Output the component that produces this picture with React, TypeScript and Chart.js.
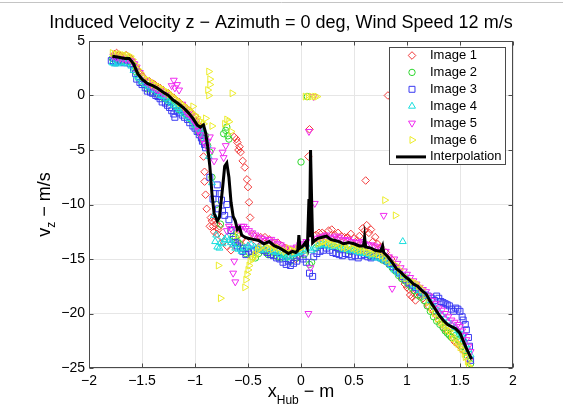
import React, { useEffect, useRef } from 'react';
import { Chart, registerables } from 'chart.js';

Chart.register(...registerables);

const TITLE = 'Induced Velocity z \u2212 Azimuth = 0 deg, Wind Speed 12 m/s';
const X_LABEL_MAIN = 'x';
const X_LABEL_SUB = 'Hub';
const X_LABEL_REST = ' \u2212 m';
const Y_LABEL_MAIN = 'v';
const Y_LABEL_SUB = 'z';
const Y_LABEL_REST = ' \u2212 m/s';

const xTicks = [-2, -1.5, -1, -0.5, 0, 0.5, 1, 1.5, 2];
const yTicks = [5, 0, -5, -10, -15, -20, -25];

const seriesNames = ['Image 1', 'Image 2', 'Image 3', 'Image 4', 'Image 5', 'Image 6'];
const lineName = 'Interpolation';

type P = [number, number];

const image1: P[] = [
  [-1.76, 3.8], [-1.72, 3.7], [-1.68, 3.6], [-1.62, 3.5], [-1.58, 3.0], [-1.54, 2.3], [-1.5, 1.8], [-1.45, 1.3],
  [-1.4, 1.1], [-1.35, 0.8], [-1.3, 0.5], [-1.25, 0.2], [-1.2, -0.2], [-1.15, -0.6], [-1.1, -1.0], [-1.05, -1.4],
  [-1.0, -1.9], [-0.96, -2.8], [-0.93, -3.5], [-0.92, -5.6], [-0.91, -7.0], [-0.91, -7.9], [-0.9, -9.1], [-0.89, -10.4],
  [-0.86, -12.0], [-0.84, -11.5], [-0.82, -12.5], [-0.8, -11.8], [-0.78, -12.3], [-0.75, -13.0], [-0.7, -13.8],
  [-0.66, -14.2], [-0.63, -3.8], [-0.6, -4.3], [-0.58, -4.7], [-0.57, -5.2], [-0.55, -6.0], [-0.53, -6.6],
  [-0.51, -7.7], [-0.5, -8.4], [-0.49, -9.8], [-0.48, -11.2], [-0.45, -12.8], [-0.38, -13.0], [-0.3, -13.2],
  [-0.22, -13.5], [-0.15, -14.0], [-0.1, -14.8], [-0.05, -15.0], [0.0, -14.5], [0.07, -5.6], [0.08, -3.1],
  [0.14, -12.8], [0.2, -12.6], [0.26, -12.4], [0.32, -12.8], [0.38, -12.9], [0.44, -13.0], [0.5, -13.1],
  [0.55, -12.9], [0.6, -12.4], [0.61, -7.8], [0.64, -12.6], [0.68, -13.4], [0.72, -13.6], [0.82, 0.0],
  [0.85, -15.0], [0.92, -16.2], [0.98, -17.3], [1.02, -17.8], [1.05, -18.5], [1.08, -18.8], [1.1, -18.0],
  [1.15, -18.6], [1.2, -19.3], [1.25, -19.8], [1.3, -20.6], [1.35, -21.4], [1.4, -22.0], [1.45, -22.6],
  [1.5, -23.0], [1.55, -23.5],
  [-1.74, 3.9], [-1.7, 3.6], [-1.65, 3.7], [-1.6, 3.3], [-1.56, 2.6], [-1.52, 2.1], [-1.48, 1.6], [-1.43, 1.3],
  [-1.38, 1.0], [-1.33, 0.7], [-1.28, 0.3], [-1.23, 0.0], [-1.18, -0.4], [-1.13, -0.8], [-1.08, -1.2],
  [-1.03, -1.7], [-0.99, -2.3], [-0.95, -3.0], [-0.85, -11.2], [-0.83, -12.0], [-0.81, -11.4], [-0.79, -12.7],
  [-0.77, -12.0], [-0.73, -13.4], [-0.61, -4.0], [-0.59, -5.0], [-0.56, -13.2], [-0.52, -13.4], [-0.42, -13.4],
  [-0.34, -13.0], [-0.26, -13.6], [-0.18, -13.8], [-0.08, -14.4], [0.17, -12.6], [0.23, -12.9], [0.29, -12.3],
  [0.35, -12.6], [0.41, -13.0], [0.47, -12.7], [0.53, -13.3], [0.58, -12.2], [0.62, -11.9], [0.66, -12.3],
  [0.7, -13.0], [0.75, -13.9], [0.8, -14.4], [0.88, -15.6], [0.95, -16.8], [1.0, -17.6], [1.03, -18.3],
  [1.07, -18.2], [1.12, -18.3], [1.18, -19.0], [1.23, -19.6], [1.28, -20.2], [1.33, -21.0], [1.38, -21.6],
  [1.43, -22.3], [1.48, -22.8], [1.53, -23.4], [1.58, -24.2],
];

const image2: P[] = [
  [-1.78, 3.4], [-1.74, 3.3], [-1.68, 3.2], [-1.62, 3.1], [-1.56, 2.2], [-1.5, 1.2], [-1.45, 0.6], [-1.4, 0.3],
  [-1.35, 0.1], [-1.3, -0.2], [-1.25, -0.6], [-1.2, -0.9], [-1.15, -1.3], [-1.1, -1.6], [-1.05, -2.1], [-1.0, -2.6],
  [-0.97, -3.3], [-0.94, -3.9], [-0.9, -3.7], [-0.88, -4.6], [-0.86, -5.2], [-0.84, -7.5], [-0.8, -10.0],
  [-0.76, -11.8], [-0.73, -3.5], [-0.7, -2.9], [-0.68, -4.0], [-0.66, -12.4], [-0.62, -13.0], [-0.58, -13.6],
  [-0.52, -14.5], [-0.46, -14.8], [-0.4, -14.5], [-0.34, -14.3], [-0.28, -14.6], [-0.22, -14.8], [-0.16, -14.6],
  [-0.1, -15.2], [-0.04, -14.9], [0.0, -6.1], [0.03, -14.6], [0.06, -0.1], [0.08, -15.5], [0.14, -14.0],
  [0.2, -13.6], [0.26, -13.5], [0.32, -13.9], [0.38, -14.0], [0.44, -14.2], [0.5, -14.0], [0.56, -14.4],
  [0.62, -14.5], [0.68, -14.6], [0.74, -14.8], [0.8, -15.2], [0.86, -15.8], [0.92, -16.5], [0.98, -17.0],
  [1.04, -17.6], [1.1, -18.3], [1.16, -18.8], [1.22, -19.8], [1.28, -20.7], [1.34, -21.3], [1.38, -21.8],
  [1.42, -22.2], [1.46, -22.0], [1.5, -22.6], [1.55, -23.4], [1.6, -24.6],
  [-1.76, 3.5], [-1.71, 3.3], [-1.65, 3.3], [-1.59, 2.8], [-1.53, 1.6], [-1.48, 1.0], [-1.43, 0.7], [-1.38, 0.4],
  [-1.33, 0.1], [-1.28, -0.3], [-1.23, -0.6], [-1.18, -1.1], [-1.13, -1.4], [-1.08, -1.8], [-1.03, -2.3],
  [-0.99, -2.8], [-0.95, -3.5], [-0.92, -4.2], [-0.71, -3.2], [-0.69, -3.7], [-0.64, -12.9], [-0.6, -13.4],
  [-0.55, -14.0], [-0.49, -14.4], [-0.43, -14.9], [-0.37, -14.2], [-0.31, -14.6], [-0.25, -14.4], [-0.19, -14.9],
  [-0.13, -14.8], [-0.07, -14.7], [-0.01, -14.2], [0.1, -15.3], [0.17, -13.8], [0.23, -13.7], [0.29, -13.6],
  [0.35, -14.1], [0.41, -13.9], [0.47, -14.3], [0.53, -14.1], [0.59, -14.3], [0.65, -14.7], [0.71, -14.5],
  [0.77, -15.1], [0.83, -15.5], [0.89, -16.1], [0.95, -16.8], [1.01, -17.3], [1.07, -17.9], [1.13, -18.5],
  [1.19, -19.3], [1.25, -20.3], [1.31, -21.0], [1.36, -21.6], [1.4, -22.0], [1.44, -21.8], [1.48, -22.4],
  [1.52, -23.0], [1.57, -23.9],
];

const image3: P[] = [
  [-1.79, 3.2], [-1.75, 3.0], [-1.7, 3.1], [-1.64, 3.2], [-1.58, 2.4], [-1.55, 1.5], [-1.5, 1.0], [-1.45, 0.4],
  [-1.4, 0.2], [-1.35, -0.1], [-1.31, -0.6], [-1.26, -0.9], [-1.22, -1.4], [-1.19, -2.0], [-1.15, -1.6],
  [-1.1, -2.0], [-1.05, -2.5], [-1.0, -3.0], [-0.96, -3.6], [-0.93, -4.2], [-0.9, -4.8], [-0.86, -7.5],
  [-0.83, -9.5], [-0.79, -8.2], [-0.77, -9.0], [-0.74, -10.6], [-0.7, -10.0], [-0.68, -11.4], [-0.64, -13.2],
  [-0.6, -13.8], [-0.55, -14.3], [-0.5, -14.0], [-0.44, -14.2], [-0.38, -13.9], [-0.32, -14.4], [-0.26, -14.7],
  [-0.2, -15.0], [-0.14, -15.5], [-0.1, -15.6], [-0.04, -15.2], [0.02, -15.0], [0.08, -16.3], [0.11, -16.6],
  [0.12, -14.8], [0.18, -14.3], [0.24, -14.0], [0.3, -14.4], [0.36, -14.6], [0.42, -14.5], [0.48, -14.8],
  [0.54, -14.9], [0.6, -14.6], [0.66, -14.9], [0.72, -14.7], [0.78, -15.0], [0.84, -15.4], [0.9, -16.0],
  [0.96, -16.6], [1.02, -17.2], [1.08, -17.6], [1.14, -18.1], [1.2, -18.4], [1.26, -18.8], [1.3, -18.6],
  [1.34, -19.0], [1.38, -19.2], [1.42, -19.6], [1.46, -19.5], [1.5, -19.8], [1.53, -20.6], [1.55, -21.0],
  [1.58, -22.2], [1.6, -24.3],
  [-1.77, 3.1], [-1.72, 3.2], [-1.67, 3.0], [-1.61, 2.9], [-1.56, 2.0], [-1.52, 1.2], [-1.47, 0.7], [-1.42, 0.3],
  [-1.37, 0.0], [-1.33, -0.3], [-1.28, -0.7], [-1.24, -1.1], [-1.2, -1.7], [-1.17, -1.4], [-1.12, -1.8],
  [-1.07, -2.2], [-1.02, -2.8], [-0.98, -3.3], [-0.94, -3.9], [-0.91, -4.5], [-0.81, -9.0], [-0.78, -10.4],
  [-0.75, -9.6], [-0.72, -11.0], [-0.66, -12.4], [-0.62, -13.5], [-0.57, -14.0], [-0.52, -14.6], [-0.47, -14.3],
  [-0.41, -14.1], [-0.35, -14.2], [-0.29, -14.6], [-0.23, -14.9], [-0.17, -15.3], [-0.12, -15.2], [-0.07, -15.4],
  [-0.01, -14.8], [0.05, -15.3], [0.15, -14.5], [0.21, -14.2], [0.27, -14.2], [0.33, -14.5], [0.39, -14.7],
  [0.45, -14.6], [0.51, -14.7], [0.57, -14.7], [0.63, -14.8], [0.69, -14.8], [0.75, -14.9], [0.81, -15.2],
  [0.87, -15.7], [0.93, -16.3], [0.99, -16.9], [1.05, -17.4], [1.11, -17.8], [1.17, -18.3], [1.23, -18.6],
  [1.28, -18.4], [1.32, -18.9], [1.36, -19.1], [1.4, -19.3], [1.44, -19.8], [1.48, -19.6], [1.52, -20.3],
  [1.56, -21.5], [1.59, -23.0],
];

const image4: P[] = [
  [-1.78, 3.0], [-1.73, 2.9], [-1.67, 3.0], [-1.6, 2.7], [-1.55, 1.8], [-1.5, 1.3], [-1.44, 0.8], [-1.38, 0.5],
  [-1.32, 0.0], [-1.27, -0.3], [-1.22, -0.7], [-1.17, -1.1], [-1.12, -1.5], [-1.07, -1.9], [-1.02, -2.4],
  [-0.98, -2.9], [-0.94, -3.2], [-0.9, -4.0], [-0.87, -5.6], [-0.84, -8.0], [-0.82, -11.0], [-0.8, -12.8],
  [-0.79, -13.9], [-0.74, -13.6], [-0.7, -13.0], [-0.66, -13.5], [-0.62, -14.0], [-0.56, -14.3], [-0.5, -13.8],
  [-0.44, -13.9], [-0.38, -14.2], [-0.32, -14.0], [-0.26, -14.3], [-0.2, -14.6], [-0.14, -14.9], [-0.08, -14.6],
  [-0.02, -14.4], [0.04, -14.1], [0.1, -14.2], [0.16, -13.8], [0.22, -13.7], [0.28, -13.9], [0.34, -13.7],
  [0.4, -14.1], [0.46, -14.2], [0.52, -14.3], [0.58, -14.5], [0.64, -14.6], [0.7, -14.9], [0.76, -15.0],
  [0.82, -15.3], [0.88, -16.0], [0.94, -16.4], [0.96, -13.4], [1.0, -16.8], [1.06, -17.4], [1.12, -17.9],
  [1.18, -18.4], [1.24, -19.2], [1.3, -19.8], [1.36, -20.4], [1.42, -21.0], [1.48, -21.6], [1.52, -22.0],
  [1.56, -22.9], [1.6, -23.8],
  [-1.76, 2.9], [-1.7, 3.0], [-1.64, 2.9], [-1.58, 2.3], [-1.53, 1.6], [-1.47, 1.0], [-1.41, 0.6], [-1.35, 0.3],
  [-1.3, -0.1], [-1.25, -0.5], [-1.2, -0.9], [-1.15, -1.3], [-1.1, -1.7], [-1.05, -2.1], [-1.0, -2.7],
  [-0.96, -3.1], [-0.92, -3.6], [-0.88, -4.6], [-0.81, -13.4], [-0.77, -14.0], [-0.76, -13.5], [-0.72, -13.2],
  [-0.68, -13.3], [-0.64, -13.7], [-0.59, -14.1], [-0.53, -14.0], [-0.47, -13.7], [-0.41, -14.0], [-0.35, -14.1],
  [-0.29, -14.2], [-0.23, -14.4], [-0.17, -14.7], [-0.11, -14.8], [-0.05, -14.5], [0.01, -14.3], [0.07, -14.0],
  [0.13, -14.0], [0.19, -13.7], [0.25, -13.8], [0.31, -13.8], [0.37, -13.9], [0.43, -14.1], [0.49, -14.2],
  [0.55, -14.4], [0.61, -14.5], [0.67, -14.7], [0.73, -14.9], [0.79, -15.1], [0.85, -15.6], [0.91, -16.2],
  [0.97, -16.6], [1.03, -17.1], [1.09, -17.6], [1.15, -18.1], [1.21, -18.8], [1.27, -19.5], [1.33, -20.1],
  [1.39, -20.7], [1.45, -21.3], [1.5, -21.8], [1.54, -22.4], [1.58, -23.3],
];

const image5: P[] = [
  [-1.77, 3.6], [-1.71, 3.4], [-1.65, 3.3], [-1.6, 3.2], [-1.55, 2.6], [-1.5, 1.7], [-1.45, 1.2], [-1.4, 0.8],
  [-1.35, 0.5], [-1.3, 0.2], [-1.2, 1.4], [-1.17, 1.0], [-1.15, 0.5], [-1.12, -0.8], [-1.08, -1.6], [-1.04, -1.9],
  [-1.0, -2.4], [-0.97, -3.2], [-0.93, -4.0], [-0.89, -4.7], [-0.86, -3.8], [-0.84, -5.0], [-0.73, -5.7],
  [-0.71, -4.6], [-0.68, -12.0], [-0.64, -16.3], [-0.63, -15.2], [-0.62, -17.1], [-0.6, -12.3], [-0.56, -12.0],
  [-0.52, -12.2], [-0.46, -12.6], [-0.4, -13.0], [-0.34, -13.3], [-0.28, -13.2], [-0.22, -13.6], [-0.16, -13.9],
  [-0.1, -14.1], [-0.04, -13.9], [0.02, -13.6], [0.07, -20.0], [0.075, -3.3], [0.09, -15.8], [0.12, -0.1],
  [0.13, -9.9], [0.18, -13.0], [0.24, -12.8], [0.3, -13.1], [0.36, -13.0], [0.42, -13.3], [0.48, -13.4],
  [0.54, -13.5], [0.6, -13.6], [0.66, -13.7], [0.72, -13.9], [0.78, -11.0], [0.8, -14.3], [0.86, -17.7],
  [0.88, -15.0], [0.94, -15.8], [1.0, -16.4], [1.06, -17.0], [1.12, -17.6], [1.18, -18.0], [1.24, -18.8],
  [1.3, -19.5], [1.36, -20.0], [1.42, -20.6], [1.48, -21.0], [1.52, -21.6], [1.56, -22.4], [1.6, -23.5],
  [-1.74, 3.5], [-1.68, 3.4], [-1.62, 3.3], [-1.57, 2.9], [-1.52, 2.1], [-1.47, 1.4], [-1.42, 1.0], [-1.37, 0.6],
  [-1.32, 0.4], [-1.27, 0.1], [-1.22, 0.9], [-1.19, 0.7], [-1.1, -1.2], [-1.06, -1.7], [-1.02, -2.2],
  [-0.98, -2.8], [-0.95, -3.6], [-0.91, -4.4], [-0.88, -4.2], [-0.82, -6.0], [-0.74, -5.2], [-0.7, -12.4],
  [-0.66, -12.2], [-0.58, -12.2], [-0.54, -12.0], [-0.49, -12.4], [-0.43, -12.8], [-0.37, -13.1], [-0.31, -13.2],
  [-0.25, -13.4], [-0.19, -13.7], [-0.13, -14.0], [-0.07, -14.0], [-0.01, -13.7], [0.05, -13.4], [0.15, -13.1],
  [0.21, -12.9], [0.27, -13.0], [0.33, -12.9], [0.39, -13.2], [0.45, -13.2], [0.51, -13.5], [0.57, -13.4],
  [0.63, -13.7], [0.69, -13.8], [0.75, -14.1], [0.83, -14.8], [0.91, -15.4], [0.97, -16.1], [1.03, -16.7],
  [1.09, -17.3], [1.15, -17.8], [1.21, -18.4], [1.27, -19.1], [1.33, -19.7], [1.39, -20.3], [1.45, -20.8],
  [1.5, -21.2], [1.54, -22.0], [1.58, -23.0],
];

const image6: P[] = [
  [-1.78, 3.9], [-1.73, 3.8], [-1.67, 3.7], [-1.61, 3.6], [-1.56, 2.8], [-1.51, 2.0], [-1.46, 1.5], [-1.41, 1.2],
  [-1.36, 0.9], [-1.31, 0.6], [-1.26, 0.3], [-1.21, -0.1], [-1.16, -0.5], [-1.11, -0.9], [-1.06, -1.3],
  [-1.02, -1.0], [-0.98, -2.0], [-0.94, -2.4], [-0.9, -2.1], [-0.88, 0.5], [-0.87, 2.2], [-0.86, 1.5],
  [-0.87, 0.0], [-0.84, -2.8], [-0.78, -15.6], [-0.76, -18.6], [-0.72, -2.6], [-0.7, -2.2], [-0.65, 0.2],
  [-0.6, -12.8], [-0.53, -17.6], [-0.51, -16.4], [-0.49, -15.6], [-0.46, -15.0], [-0.43, -14.6], [-0.41, -14.2],
  [-0.36, -13.8], [-0.3, -14.0], [-0.24, -13.9], [-0.18, -14.2], [-0.12, -14.0], [-0.06, -14.3], [0.0, -14.0],
  [0.04, -0.1], [0.1, -0.1], [0.15, -0.1], [0.16, -13.6], [0.22, -13.4], [0.28, -13.6], [0.34, -13.6],
  [0.4, -13.9], [0.46, -13.8], [0.52, -14.1], [0.58, -14.2], [0.64, -14.4], [0.7, -14.5], [0.76, -14.7],
  [0.79, -9.6], [0.82, -15.1], [0.89, -11.0], [0.9, -15.6], [0.96, -16.5], [1.02, -17.0], [1.08, -17.2],
  [1.14, -17.8], [1.2, -19.0], [1.26, -20.0], [1.32, -20.8], [1.36, -21.2], [1.4, -21.6], [1.44, -22.3],
  [1.48, -22.8], [1.52, -23.3], [1.55, -24.0], [1.58, -24.8], [1.6, -25.0],
  [-1.76, 3.8], [-1.7, 3.8], [-1.64, 3.7], [-1.59, 3.3], [-1.54, 2.4], [-1.49, 1.7], [-1.44, 1.4], [-1.39, 1.0],
  [-1.34, 0.8], [-1.29, 0.5], [-1.24, 0.1], [-1.19, -0.3], [-1.14, -0.7], [-1.09, -1.1], [-1.04, -1.5],
  [-1.0, -1.8], [-0.96, -2.3], [-0.92, -2.6], [-0.86, 1.0], [-0.68, -2.4], [-0.66, -3.3], [-0.52, -16.9],
  [-0.5, -16.0], [-0.48, -15.2], [-0.44, -14.8], [-0.39, -14.0], [-0.33, -13.9], [-0.27, -14.1], [-0.21, -14.0],
  [-0.15, -14.3], [-0.09, -14.2], [-0.03, -14.1], [0.07, -0.1], [0.13, -0.1], [0.19, -13.5], [0.25, -13.5],
  [0.31, -13.7], [0.37, -13.7], [0.43, -14.0], [0.49, -14.0], [0.55, -14.2], [0.61, -14.3], [0.67, -14.5],
  [0.73, -14.6], [0.79, -14.9], [0.85, -15.3], [0.93, -16.0], [0.99, -16.8], [1.05, -17.1], [1.11, -17.5],
  [1.17, -18.3], [1.23, -19.6], [1.29, -20.5], [1.34, -21.0], [1.38, -21.5], [1.42, -22.0], [1.46, -22.6],
  [1.5, -23.1], [1.54, -23.7], [1.57, -24.4],
];

const interpolation: P[] = [
  [-1.78, 3.6], [-1.72, 3.5], [-1.66, 3.4], [-1.62, 3.4], [-1.58, 2.9], [-1.54, 2.0], [-1.5, 1.5], [-1.45, 1.1],
  [-1.4, 0.9], [-1.36, 0.7], [-1.3, 0.3], [-1.25, 0.0], [-1.21, -0.4], [-1.15, -0.8], [-1.1, -1.2], [-1.06, -1.6],
  [-1.02, -2.1], [-0.98, -2.7], [-0.95, -2.9], [-0.92, -2.7], [-0.9, -3.4], [-0.88, -4.7], [-0.86, -6.5],
  [-0.84, -9.0], [-0.82, -10.8], [-0.79, -11.5], [-0.77, -11.2], [-0.74, -8.5], [-0.72, -6.5], [-0.7, -6.2],
  [-0.68, -7.5], [-0.66, -9.8], [-0.64, -11.1], [-0.62, -11.5], [-0.6, -12.3], [-0.58, -12.1], [-0.56, -12.8],
  [-0.53, -13.0], [-0.5, -13.1], [-0.45, -13.2], [-0.4, -13.3], [-0.35, -13.6], [-0.3, -13.4], [-0.25, -13.8],
  [-0.2, -14.0], [-0.15, -14.3], [-0.12, -14.5], [-0.08, -14.3], [-0.05, -14.4], [-0.03, -14.2], [-0.02, -12.8],
  [-0.01, -14.0], [0.02, -13.8], [0.04, -13.5], [0.06, -14.0], [0.075, -9.5], [0.08, -13.0], [0.09, -5.0],
  [0.1, -9.5], [0.11, -13.5], [0.13, -13.3], [0.16, -13.1], [0.2, -13.0], [0.24, -12.9], [0.28, -13.2],
  [0.32, -13.3], [0.36, -13.4], [0.4, -13.6], [0.45, -13.5], [0.5, -13.6], [0.55, -13.8], [0.59, -13.8],
  [0.6, -13.0], [0.61, -13.9], [0.66, -14.0], [0.7, -14.2], [0.75, -14.3], [0.77, -13.8], [0.78, -14.4],
  [0.82, -14.8], [0.86, -15.3], [0.9, -15.9], [0.94, -16.2], [0.98, -16.6], [1.02, -16.9], [1.06, -17.3],
  [1.1, -17.5], [1.14, -17.9], [1.18, -18.2], [1.22, -18.9], [1.26, -19.5], [1.3, -20.1], [1.34, -20.6],
  [1.38, -21.0], [1.42, -21.2], [1.46, -21.4], [1.5, -21.8], [1.53, -22.5], [1.56, -23.2], [1.59, -23.8],
  [1.61, -24.2],
];

const seriesData = [image1, image2, image3, image4, image5, image6];
const seriesColors = ['#f23a3a', '#2fd82f', '#3a3af2', '#19dede', '#f02af0', '#ecec2a'];
const seriesStyles = ['rectRot', 'circle', 'rect', 'triangle', 'triangle', 'triangle'];
const seriesRotations = [0, 0, 0, 0, 180, 90];
const seriesRadius = [3.8, 3.2, 4.2, 4, 4, 4];

const FONT = '"Liberation Sans", Arial, Helvetica, sans-serif';

function drawMarker(ctx: CanvasRenderingContext2D, style: string, rot: number, x: number, y: number, r: number) {
  ctx.beginPath();
  if (style === 'circle') {
    ctx.arc(x, y, r, 0, Math.PI * 2);
  } else if (style === 'rect') {
    const s = r * Math.SQRT1_2;
    ctx.rect(x - s, y - s, 2 * s, 2 * s);
  } else if (style === 'rectRot') {
    ctx.moveTo(x, y - r);
    ctx.lineTo(x + r, y);
    ctx.lineTo(x, y + r);
    ctx.lineTo(x - r, y);
    ctx.closePath();
  } else {
    let a = (rot * Math.PI) / 180;
    ctx.moveTo(x + Math.sin(a) * r, y - Math.cos(a) * r);
    a += (2 * Math.PI) / 3;
    ctx.lineTo(x + Math.sin(a) * r, y - Math.cos(a) * r);
    a += (2 * Math.PI) / 3;
    ctx.lineTo(x + Math.sin(a) * r, y - Math.cos(a) * r);
    ctx.closePath();
  }
  ctx.stroke();
}

const decorPlugin = {
  id: 'decor',
  afterDraw(chart: any) {
    const ctx: CanvasRenderingContext2D = chart.ctx;
    const { left, right, top, bottom } = chart.chartArea;
    const xs = chart.scales.x;
    const ys = chart.scales.y;
    ctx.save();

    ctx.strokeStyle = '#c4c4c4';
    ctx.lineWidth = 1;
    ctx.beginPath();
    ctx.moveTo(0, 2.5);
    ctx.lineTo(563, 2.5);
    ctx.stroke();

    ctx.strokeStyle = '#4a4a4a';
    ctx.lineWidth = 1;
    const L = Math.round(left) + 0.5;
    const R = Math.round(right) - 0.5;
    const T = Math.round(top) + 0.5;
    const B = Math.round(bottom) - 0.5;
    ctx.strokeRect(L, T, R - L, B - T);

    const tl = 4;
    ctx.beginPath();
    xTicks.forEach((v) => {
      const px = Math.round(xs.getPixelForValue(v)) + 0.5;
      ctx.moveTo(px, B);
      ctx.lineTo(px, B - tl);
      ctx.moveTo(px, T);
      ctx.lineTo(px, T + tl);
    });
    yTicks.forEach((v) => {
      const py = Math.round(ys.getPixelForValue(v)) + 0.5;
      ctx.moveTo(L, py);
      ctx.lineTo(L + tl, py);
      ctx.moveTo(R, py);
      ctx.lineTo(R - tl, py);
    });
    ctx.stroke();

    ctx.fillStyle = '#000';
    ctx.font = `18px ${FONT}`;
    ctx.textAlign = 'center';
    ctx.textBaseline = 'alphabetic';
    ctx.fillText(TITLE, 281, 28);

    ctx.textAlign = 'left';
    ctx.font = `18px ${FONT}`;
    const xw1 = ctx.measureText(X_LABEL_MAIN).width;
    const xw3 = ctx.measureText(X_LABEL_REST).width;
    ctx.font = `12px ${FONT}`;
    const xw2 = ctx.measureText(X_LABEL_SUB).width;
    const xcx = (left + right) / 2;
    const sx = xcx - (xw1 + xw2 + xw3) / 2;
    const xb = 397;
    ctx.font = `18px ${FONT}`;
    ctx.fillText(X_LABEL_MAIN, sx, xb);
    ctx.font = `12px ${FONT}`;
    ctx.fillText(X_LABEL_SUB, sx + xw1, xb + 7);
    ctx.font = `18px ${FONT}`;
    ctx.fillText(X_LABEL_REST, sx + xw1 + xw2, xb);

    ctx.save();
    ctx.translate(50, (top + bottom) / 2);
    ctx.rotate(-Math.PI / 2);
    ctx.font = `18px ${FONT}`;
    const yw1 = ctx.measureText(Y_LABEL_MAIN).width;
    const yw3 = ctx.measureText(Y_LABEL_REST).width;
    ctx.font = `12px ${FONT}`;
    const yw2 = ctx.measureText(Y_LABEL_SUB).width;
    const sy = -(yw1 + yw2 + yw3) / 2;
    ctx.font = `18px ${FONT}`;
    ctx.fillText(Y_LABEL_MAIN, sy, 0);
    ctx.font = `12px ${FONT}`;
    ctx.fillText(Y_LABEL_SUB, sy + yw1, 5);
    ctx.font = `18px ${FONT}`;
    ctx.fillText(Y_LABEL_REST, sy + yw1 + yw2, 0);
    ctx.restore();

    const lx = 389.5, ly = 47.5, lw = 116, lh = 117;
    ctx.fillStyle = '#fff';
    ctx.fillRect(lx, ly, lw, lh);
    ctx.strokeStyle = '#4a4a4a';
    ctx.lineWidth = 1;
    ctx.strokeRect(lx, ly, lw, lh);
    ctx.font = `13px ${FONT}`;
    ctx.textBaseline = 'middle';
    ctx.textAlign = 'left';
    const rowH = 16.9;
    const y0 = 55.5;
    seriesNames.forEach((name, i) => {
      const cy = y0 + i * rowH;
      ctx.strokeStyle = seriesColors[i];
      ctx.lineWidth = 1;
      drawMarker(ctx, seriesStyles[i], seriesRotations[i], 412, cy, seriesRadius[i]);
      ctx.fillStyle = '#000';
      ctx.fillText(name, 430, cy);
    });
    const cyL = y0 + 6 * rowH;
    ctx.strokeStyle = '#000';
    ctx.lineWidth = 3;
    ctx.beginPath();
    ctx.moveTo(396, cyL);
    ctx.lineTo(426, cyL);
    ctx.stroke();
    ctx.fillStyle = '#000';
    ctx.fillText(lineName, 430, cyL);

    ctx.restore();
  },
};

const fmt = (v: number) => String(v).replace('-', '\u2212');

export default function App() {
  const ref = useRef<HTMLCanvasElement | null>(null);

  useEffect(() => {
    if (!ref.current) return;
    Chart.defaults.font.family = FONT;

    const scatterSets = seriesData.map((pts, i) => ({
      type: 'scatter' as const,
      label: seriesNames[i],
      data: pts.map(([x, y]) => ({ x, y })),
      borderColor: seriesColors[i],
      backgroundColor: 'rgba(0,0,0,0)',
      borderWidth: 1,
      pointStyle: seriesStyles[i] as any,
      rotation: seriesRotations[i],
      pointRadius: seriesRadius[i],
      pointHoverRadius: seriesRadius[i],
      showLine: false,
      order: 7 - i,
    }));

    const chart = new Chart(ref.current, {
      type: 'scatter',
      data: {
        datasets: [
          {
            type: 'line' as const,
            label: lineName,
            data: interpolation.map(([x, y]) => ({ x, y })),
            borderColor: '#000',
            backgroundColor: '#000',
            borderWidth: 3,
            pointRadius: 0,
            tension: 0,
            showLine: true,
            fill: false,
            order: 0,
          } as any,
          ...scatterSets,
        ],
      },
      options: {
        responsive: false,
        animation: false,
        events: [],
        layout: { padding: { left: 0, right: 50, top: 41, bottom: 0 } },
        plugins: {
          legend: { display: false },
          title: { display: false },
          tooltip: { enabled: false },
        },
        scales: {
          x: {
            type: 'linear',
            min: -2,
            max: 2,
            afterBuildTicks: (s: any) => {
              s.ticks = xTicks.map((v) => ({ value: v }));
            },
            afterFit: (s: any) => {
              s.height = 40;
            },
            ticks: {
              callback: (v: any) => fmt(Number(v)),
              color: '#000',
              font: { size: 14, family: FONT },
              padding: 5,
              maxRotation: 0,
              autoSkip: false,
            },
            grid: { color: '#e6e6e6', drawTicks: false, lineWidth: 1 },
            border: { display: false },
          },
          y: {
            type: 'linear',
            min: -25,
            max: 5,
            afterBuildTicks: (s: any) => {
              s.ticks = yTicks.map((v) => ({ value: v }));
            },
            afterFit: (s: any) => {
              s.width = 89;
            },
            ticks: {
              callback: (v: any) => fmt(Number(v)),
              color: '#000',
              font: { size: 14, family: FONT },
              padding: 4,
              autoSkip: false,
            },
            grid: { color: '#e6e6e6', drawTicks: false, lineWidth: 1 },
            border: { display: false },
          },
        },
      },
      plugins: [decorPlugin],
    });

    return () => chart.destroy();
  }, []);

  return (
    <div style={{ position: 'fixed', left: 0, top: 0, width: 563, height: 408, background: '#fff' }}>
      <canvas ref={ref} width={563} height={408} style={{ display: 'block', width: 563, height: 408 }} />
    </div>
  );
}
